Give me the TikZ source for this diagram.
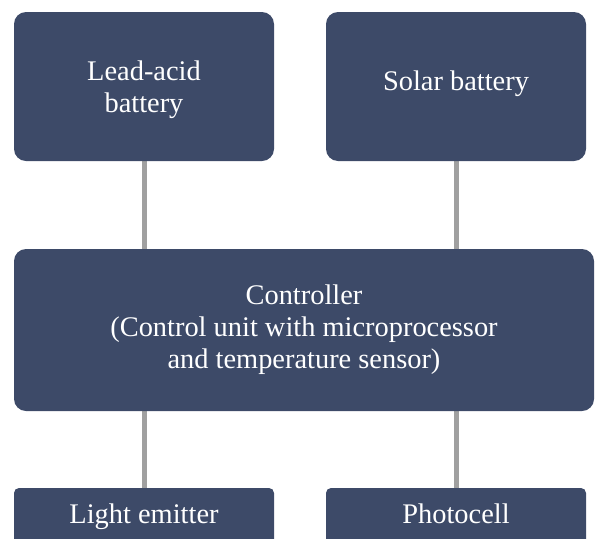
\documentclass[tikz,border=0pt]{standalone}
\usepackage{fontspec}
\setmainfont{Liberation Serif}
\usetikzlibrary{backgrounds}
\definecolor{boxblue}{RGB}{61,74,104}
\definecolor{linegray}{RGB}{160,160,160}
\begin{document}
\begin{tikzpicture}[x=1pt,y=-1pt,
  box/.style={draw=none, fill=boxblue, rounded corners=12pt, text=white,
    font=\fontsize{28.4}{32}\selectfont, align=center, inner sep=0pt},
  link/.style={draw=linegray, line width=5pt}]
\useasboundingbox (0,0) rectangle (598,539);
\node[box, minimum width=260pt, minimum height=149pt, text height=57pt, text depth=6pt] (lead) at (144,86.5) {Lead-acid\\battery};
\node[box, minimum width=260pt, minimum height=149pt, text height=19pt, text depth=12pt] (solar) at (456,86.5) {Solar battery};
\node[box, minimum width=580pt, minimum height=162pt] (ctrl) at (304,330) {Controller\\(Control unit with microprocessor\\and temperature sensor)};
\node[box, rounded corners=5pt, minimum width=260pt, minimum height=58pt, text height=19pt, text depth=7pt] (light) at (144,517) {Light emitter};
\node[box, rounded corners=5pt, minimum width=260pt, minimum height=58pt, text height=19pt, text depth=7pt] (photo) at (456,517) {Photocell};
\begin{scope}[on background layer]
\draw[link] (lead.south) -- (lead.south |- ctrl.north);
\draw[link] (solar.south) -- (solar.south |- ctrl.north);
\draw[link] (light.north |- ctrl.south) -- (light.north);
\draw[link] (photo.north |- ctrl.south) -- (photo.north);
\end{scope}
\end{tikzpicture}
\end{document}
